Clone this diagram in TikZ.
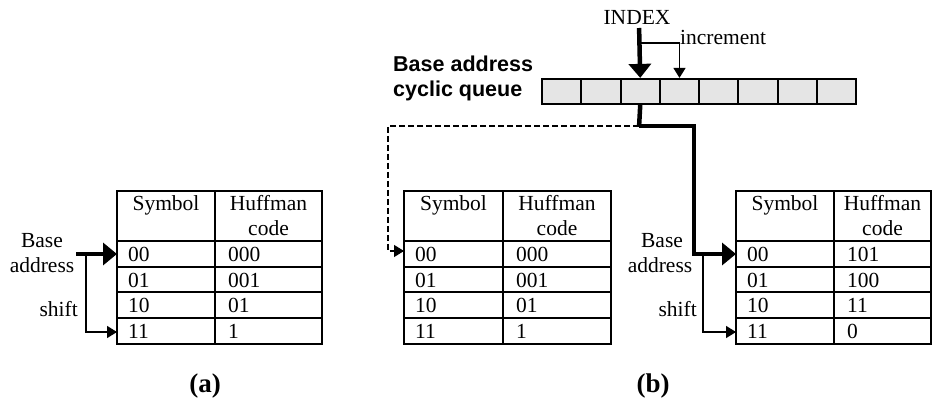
\documentclass[tikz,border=0pt]{standalone}
\usepackage{fontspec}
\setmainfont{Liberation Serif}
\newfontfamily\arialbf{Liberation Sans}[BoldFont={* Bold}]
\usetikzlibrary{arrows.meta}
\tikzset{
  tbl/.style={line width=2.2pt, line cap=rect},
  txt/.style={inner sep=0pt, font=\fontsize{21.5}{24}\selectfont},
  hdtxt/.style={txt, anchor=base},
  rowtxt/.style={txt, anchor=base west},
  thickarrow/.style={line width=4.5pt, -{Triangle[length=14pt,width=22pt]}},
  thickline/.style={line width=4.5pt},
  thinarrow/.style={line width=1.5pt, -{Triangle[length=10pt,width=12pt]}},
  dasharrow/.style={line width=1.3pt, dash pattern=on 6pt off 3pt, -{Triangle[length=10pt,width=12pt]}},
  qcell/.style={draw, line width=2.2pt, fill=black!10, minimum width=39.25pt, minimum height=25pt, inner sep=0pt, anchor=west},
  captxt/.style={inner sep=0pt, anchor=base, font=\fontsize{27}{30}\selectfont\bfseries},
}
\newcommand{\hufftable}[8]{%
  \draw[tbl] (#2,191) rectangle (#4,344);
  \draw[tbl] (#3,191) -- (#3,344);
  \foreach \yy in {241,267,292,318} \draw[tbl] (#2,\yy) -- (#4,\yy);
  \node[hdtxt] (#1-sym) at ({(#2+#3)/2},210.5) {Symbol};
  \node[hdtxt] (#1-huf) at ({(#3+#4)/2},210.5) {Huffman};
  \node[hdtxt] (#1-code) at ({(#3+#4)/2},235) {code};
  \node[rowtxt] (#1-s1) at ({#2+11},261.5) {00};
  \node[rowtxt] (#1-s2) at ({#2+11},287) {01};
  \node[rowtxt] (#1-s3) at ({#2+11},312) {10};
  \node[rowtxt] (#1-s4) at ({#2+11},338) {11};
  \node[rowtxt] (#1-c1) at ({#3+13},261.5) {#5};
  \node[rowtxt] (#1-c2) at ({#3+13},287) {#6};
  \node[rowtxt] (#1-c3) at ({#3+13},312) {#7};
  \node[rowtxt] (#1-c4) at ({#3+13},338) {#8};
  \coordinate (#1-r1) at (#2,254);
  \coordinate (#1-r1d) at (#2,251);
  \coordinate (#1-r4) at (#2,332);
}
\begin{document}
\begin{tikzpicture}[x=1pt,y=-1pt]
\useasboundingbox (0,0) rectangle (933,398);

% ---------- (a) ----------
\hufftable{A}{117}{215}{322}{000}{001}{01}{1}
\node[hdtxt] (Abase) at (42,247) {Base};
\node[hdtxt] (Aaddr) at (42,272) {address};
\node[txt, anchor=base east] (Ashift) at (78,316.5) {shift};
\coordinate (Astart) at (76,254);
\coordinate (Ajoin) at (86,254);
\draw[thickarrow] (Astart) -- (A-r1);
\draw[thinarrow] (Ajoin) |- (A-r4);
\node[captxt] (capa) at (205,392) {(a)};

% ---------- (b) ----------
\hufftable{B}{404}{503}{611}{000}{001}{01}{1}
\hufftable{C}{736}{834}{931}{101}{100}{11}{0}

\foreach \i in {1,...,8}
  \node[qcell] (q\i) at ({541+(\i-1)*39.25},91.5) {};
\node[inner sep=0pt, anchor=west, align=left, font=\arialbf\bfseries\fontsize{21.5}{25}\selectfont] (qlabel) at (393,78) {Base address\\cyclic queue};

\node[hdtxt] (index) at (637,25) {INDEX};
\coordinate (itop) at (639.1,28);
\coordinate (ibranch) at (639.1,43);
\draw[thickarrow] (itop) -- (q3.north);
\draw[thinarrow] (ibranch) -| (q4.north);
\node[txt, anchor=base west] (incr) at (680,45) {increment};

\coordinate (qsplit) at (639.1,126);
\coordinate (qright) at (694,126);
\coordinate (qleft) at (388,126);
\draw[thickline] (q3.south) -- (qsplit);
\draw[thickarrow] (qsplit) -- (qright) |- (C-r1);
\draw[dasharrow] (qsplit) -- (qleft) |- (B-r1d);

\node[hdtxt] (Cbase) at (662,247) {Base};
\node[hdtxt] (Caddr) at (660,272) {address};
\node[txt, anchor=base east] (Cshift) at (697,316.5) {shift};
\coordinate (Cjoin) at (703,254);
\draw[thinarrow] (Cjoin) |- (C-r4);
\node[captxt] (capb) at (653,392) {(b)};
\end{tikzpicture}
\end{document}
